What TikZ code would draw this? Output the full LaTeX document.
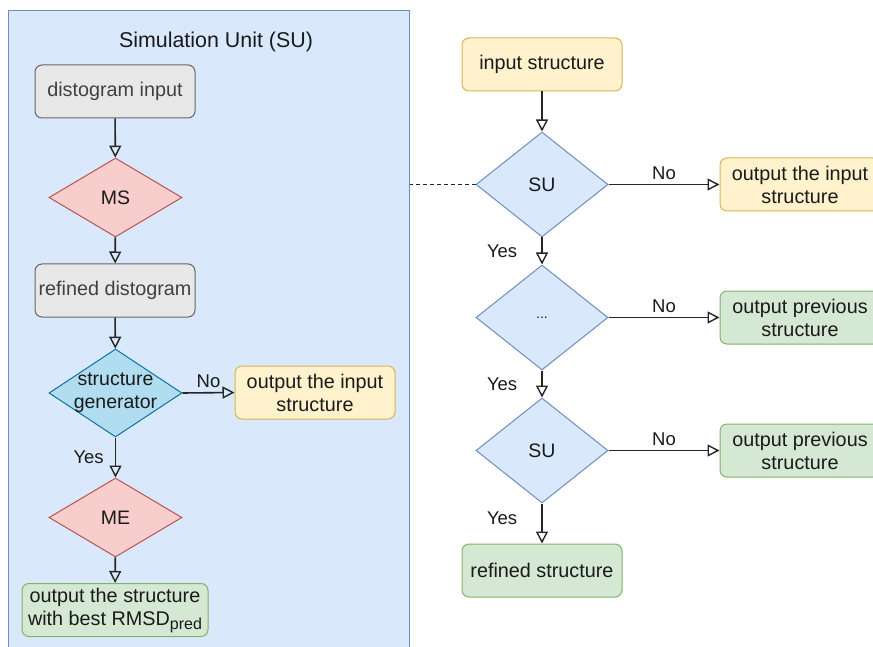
\documentclass[tikz,border=0pt]{standalone}
\usepackage{fontspec}
\setmainfont{Liberation Sans}
\usetikzlibrary{shapes.geometric,arrows.meta}
\definecolor{panelfill}{HTML}{DAE8FC}
\definecolor{panelline}{HTML}{6C8EBF}
\definecolor{grayfill}{HTML}{E8E8E8}
\definecolor{grayline}{HTML}{666666}
\definecolor{redfill}{HTML}{F8CECC}
\definecolor{redline}{HTML}{B85450}
\definecolor{cyanfill}{HTML}{B1DDF0}
\definecolor{cyanline}{HTML}{10739E}
\definecolor{yelfill}{HTML}{FFF2CC}
\definecolor{yelline}{HTML}{D6B656}
\definecolor{grnfill}{HTML}{D5E8D4}
\definecolor{grnline}{HTML}{82B366}
\definecolor{txt}{HTML}{1A1A1A}
\tikzset{
  boxbase/.style={rectangle, rounded corners=7pt, line width=1pt, minimum width=160pt, minimum height=53pt, inner sep=2pt, align=center, text=txt, font=\fontsize{19.8}{23}\selectfont},
  graybox/.style={boxbase, fill=grayfill, draw=grayline, text=black!75},
  yelbox/.style={boxbase, fill=yelfill, draw=yelline},
  grnbox/.style={boxbase, fill=grnfill, draw=grnline},
  diabase/.style={diamond, line width=1pt, inner sep=0pt, minimum width=133pt, minimum height=79pt},
  diatext/.style={text=txt, font=\fontsize{19.5}{23}\selectfont, align=center, inner sep=0pt},
  reddia/.style={diabase, fill=redfill, draw=redline},
  cyandia/.style={diabase, fill=cyanfill, draw=cyanline},
  bluedia/.style={diabase, fill=panelfill, draw=panelline, minimum width=132pt, minimum height=105pt},
  flow/.style={line width=1.6pt, draw=black!85, -{Triangle[open, length=12pt, width=12pt, line width=1.4pt]}},
  elabel/.style={text=txt, font=\fontsize{18.5}{21}\selectfont, inner sep=1pt},
}
\begin{document}
\begin{tikzpicture}[x=1pt,y=-1pt]
\useasboundingbox (0,0) rectangle (873,647);
\clip (0,0) rectangle (873,647);
% panel
\node[rectangle, fill=panelfill, draw=panelline, line width=1pt, minimum width=401pt, minimum height=650pt, inner sep=0pt] (panel) at (208.5,336) {};
\node[text=txt, font=\fontsize{21.4}{25}\selectfont] (title) at (216,42) {Simulation Unit (SU)};
% left flow
\node[graybox] (di) at (115,91.5) {distogram input};
\node[reddia, label={[diatext]center:MS}] (ms) at (115.5,197.5) {};
\node[graybox] (rd) at (115,290.5) {refined distogram};
\node[cyandia, minimum height=88pt, label={[diatext]center:structure\\generator}] (sg) at (115.5,393) {};
\node[yelbox] (oin) at (315,392.5) {output the input\\structure};
\node[reddia, label={[diatext]center:ME}] (me) at (115.5,517.5) {};
\node[grnbox, minimum width=186pt] (out) at (115,610) {output the structure\\with best RMSD{\fontsize{16}{16}\selectfont\raisebox{-4pt}{pred}}};
\draw[flow] (di) -- (ms);
\draw[flow] (ms) -- (rd);
\draw[flow] (rd) -- (sg);
\draw[flow] (sg.east) -- node[elabel, above=3pt] (l1) {No} (oin.west);
\draw[flow] (sg.south) -- node[elabel, left=10pt] (l2) {Yes} (me.north);
\draw[flow] (me) -- (out);
% right flow
\node[yelbox] (is) at (542,64.5) {input structure};
\node[bluedia, label={[diatext]center:SU}] (su1) at (542,184.5) {};
\node[bluedia, label={[diatext, font=\fontsize{14}{16}\selectfont]center:...}] (dd) at (542,317.5) {};
\node[bluedia, label={[diatext]center:SU}] (su3) at (542,450.5) {};
\node[grnbox] (rs) at (542,570.5) {refined structure};
\node[yelbox] (o1) at (800,184.5) {output the input\\structure};
\node[grnbox] (o2) at (800,317.5) {output previous\\structure};
\node[grnbox] (o3) at (800,450.5) {output previous\\structure};
\draw[line width=1.4pt, draw=black!85, dash pattern=on 4pt off 3pt] (su1.west) -- (su1.west -| panel.east);
\draw[flow] (is) -- (su1);
\draw[flow] (su1.east) -- node[elabel, above=3pt] (l3) {No} (o1.west);
\draw[flow] (su1.south) -- node[elabel, left=23pt] (l4) {Yes} (dd.north);
\draw[flow] (dd.east) -- node[elabel, above=3pt] (l5) {No} (o2.west);
\draw[flow] (dd.south) -- node[elabel, left=23pt] (l6) {Yes} (su3.north);
\draw[flow] (su3.east) -- node[elabel, above=3pt] (l7) {No} (o3.west);
\draw[flow] (su3.south) -- node[elabel, pos=0.38, left=23pt] (l8) {Yes} (rs.north);
\end{tikzpicture}
\end{document}
